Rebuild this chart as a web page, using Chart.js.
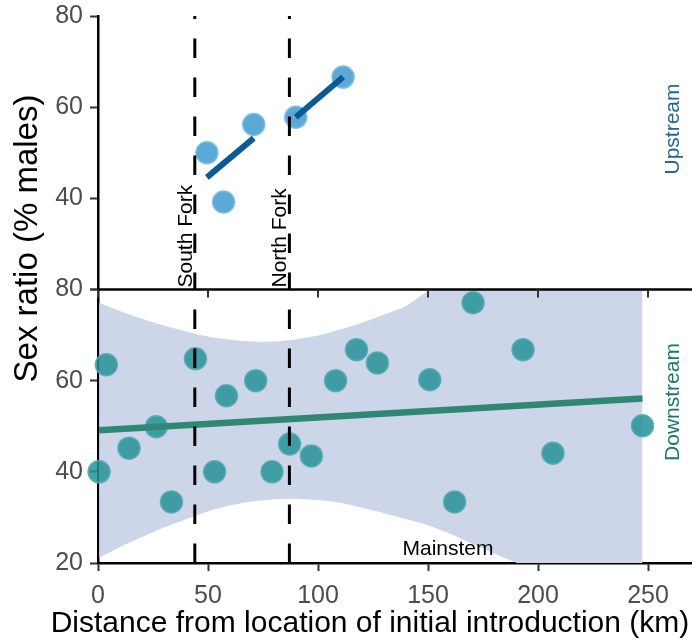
<!DOCTYPE html>
<html><head><meta charset="utf-8">
<script src="https://cdn.jsdelivr.net/npm/chart.js@4.4.1/dist/chart.umd.min.js"></script>
<style>html,body{margin:0;padding:0;background:#fff;}#wrap{width:692px;height:640px;position:relative;}</style>
</head><body><div id="wrap"><canvas id="c" width="692" height="640"></canvas></div>
<script>
// ---- data ----
const xTicks = [0, 50, 100, 150, 200, 250];
const yTicks = [20, 40, 60, 80];
const forkNames = ['South Fork', 'North Fork'];
const forkKm = [44, 87];
const upKm = [49.5, 57.1, 70.8, 89.9, 111.4];
const upRatio = [50.0, 39.2, 56.2, 57.8, 66.6];
const upFit1Km = [49.5, 70.8];
const upFit1Ratio = [44.6, 53.2];
const upFit2Km = [89.9, 111.4];
const upFit2Ratio = [57.8, 66.6];
const downKm = [0.5, 3.8, 14.1, 26.5, 33.4, 44.3, 53.0, 58.4, 71.7, 79.1, 87.1, 97.0, 108.0, 117.5, 127.0, 150.8, 162.1, 170.5, 193.2, 206.8, 247.5];
const downRatio = [40.0, 63.5, 45.2, 49.9, 33.4, 64.8, 40.0, 56.7, 60.0, 40.0, 46.1, 43.5, 60.0, 66.8, 63.9, 60.2, 33.4, 77.1, 66.8, 44.1, 50.1];
const downFitKm = [0.5, 247.5];
const downFitRatio = [49.1, 56.1];
const bandKm = [0.5, 10, 20, 30, 40, 50, 60, 70, 80, 90, 100, 110, 120, 130, 140, 150, 160, 170, 180, 190, 200, 210, 220, 230, 240, 247.5];
const bandUpper = [77.1, 75.3, 73.6, 72.1, 70.8, 69.7, 69.0, 68.6, 68.6, 69.1, 69.9, 71.2, 72.7, 74.5, 76.4, 79.6, 81.6, 83.8, 86.1, 88.7, 91.3, 94.0, 96.7, 99.5, 102.3, 104.5];
const bandLower = [21.1, 23.5, 25.7, 27.8, 29.6, 31.3, 32.6, 33.5, 34.0, 34.1, 33.8, 33.2, 32.1, 30.9, 29.6, 28.3, 26.4, 24.2, 22.1, 20.1, 18.0, 15.8, 13.6, 11.4, 9.2, 7.5];
const panelLabels = ['Upstream', 'Downstream', 'Mainstem'];
const xTitle = 'Distance from location of initial introduction (km)';
const yTitle = 'Sex ratio (% males)';

const zip = (xs, ys) => xs.map((x, i) => ({x: x, y: ys[i]}));
const FONT = '"Liberation Sans", Arial, Helvetica, sans-serif';

const vline = (km, axis, offset) => ({
  type: 'line', yAxisID: axis, order: 20,
  data: [{x: km, y: yTicks[0]}, {x: km, y: yTicks[yTicks.length - 1]}],
  borderColor: '#000', borderWidth: 3, borderDash: [19.5, 19.5], borderDashOffset: offset,
  pointRadius: 0, fill: false
});

const panelClip = {
  id: 'panelClip',
  beforeDatasetsDraw(chart) {
    const s = chart.scales.yDown, a = chart.chartArea, ctx = chart.ctx;
    ctx.save();
    ctx.beginPath();
    ctx.rect(a.left, s.top, a.right - a.left, s.bottom - s.top);
    ctx.clip();
  },
  afterDatasetDraw(chart, args) {
    if (args.index === 1) chart.ctx.restore();
  }
};

const decor = {
  id: 'decor',
  afterDraw(chart) {
    const ctx = chart.ctx, x = chart.scales.x, yU = chart.scales.yUp, a = chart.chartArea;
    // upper panel x axis line + ticks
    ctx.save();
    ctx.strokeStyle = '#000'; ctx.lineWidth = 2.5;
    ctx.beginPath(); ctx.moveTo(a.left - 1, yU.bottom); ctx.lineTo(a.right, yU.bottom); ctx.stroke();
    ctx.strokeStyle = '#333'; ctx.lineWidth = 2;
    xTicks.forEach(t => {
      const px = x.getPixelForValue(t);
      ctx.beginPath(); ctx.moveTo(px, yU.bottom); ctx.lineTo(px, yU.bottom + 8); ctx.stroke();
    });
    // fork labels
    ctx.fillStyle = '#000'; ctx.font = '21px ' + FONT;
    ctx.textAlign = 'left'; ctx.textBaseline = 'alphabetic';
    forkKm.forEach((km, i) => {
      ctx.save();
      ctx.translate(x.getPixelForValue(km) - 3, yU.bottom - 2);
      ctx.rotate(-Math.PI / 2);
      ctx.fillText(forkNames[i], 0, 0);
      ctx.restore();
    });
    // Mainstem
    ctx.textAlign = 'center';
    ctx.fillText(panelLabels[2], 448, 555);
    // Upstream / Downstream
    const side = (txt, cy, col) => {
      ctx.save(); ctx.fillStyle = col; ctx.translate(679, cy); ctx.rotate(-Math.PI / 2);
      ctx.textAlign = 'center'; ctx.fillText(txt, 0, 0); ctx.restore();
    };
    side(panelLabels[0], 129, '#1f6699');
    side(panelLabels[1], 402, '#167a66');
    // axis titles
    ctx.fillStyle = '#000';
    ctx.font = '30px ' + FONT; ctx.textAlign = 'center';
    ctx.fillText(xTitle, 370, 632);
    ctx.save(); ctx.font = '33px ' + FONT; ctx.translate(37, 238.5); ctx.rotate(-Math.PI / 2);
    ctx.fillText(yTitle, 0, 0); ctx.restore();
    ctx.restore();
  }
};

const yScale = (hide20) => ({
  type: 'linear', position: 'left', stack: 'panels', stackWeight: 1,
  min: yTicks[0], max: yTicks[yTicks.length - 1],
  afterFit: s => { s.width = 98; s.paddingTop = 0; s.paddingBottom = 0; },
  afterBuildTicks: s => { s.ticks = yTicks.map(v => ({value: v})); },
  ticks: {
    color: '#4d4d4d', padding: 7, font: {size: 25, family: FONT},
    callback: v => (hide20 && v === yTicks[0]) ? '' : String(v)
  },
  grid: {display: true, drawOnChartArea: false, drawTicks: true, tickLength: 8, tickWidth: 2, tickColor: '#333'},
  border: {display: true, color: '#000', width: 2.5}
});

new Chart(document.getElementById('c'), {
  type: 'scatter',
  data: {
    datasets: [
      {type: 'line', yAxisID: 'yDown', order: 100, data: zip(bandKm, bandUpper),
       borderWidth: 0, pointRadius: 0, fill: '+1', backgroundColor: '#cdd5e8', tension: 0.3},
      {type: 'line', yAxisID: 'yDown', order: 99, data: zip(bandKm, bandLower),
       borderWidth: 0, pointRadius: 0, fill: false, tension: 0.3},
      {type: 'scatter', yAxisID: 'yDown', order: 40, data: zip(downKm, downRatio), clip: false,
       pointRadius: 11, pointBackgroundColor: 'rgba(38,146,152,0.85)', pointBorderColor: 'rgba(85,172,176,0.9)', pointBorderWidth: 1.5},
      {type: 'scatter', yAxisID: 'yUp', order: 40, data: zip(upKm, upRatio), clip: false,
       pointRadius: 11, pointBackgroundColor: 'rgba(75,160,208,0.9)', pointBorderColor: 'rgba(125,190,228,0.95)', pointBorderWidth: 1.5},
      {type: 'line', yAxisID: 'yDown', order: 30, data: zip(downFitKm, downFitRatio),
       borderColor: '#2f8774', borderWidth: 6.5, pointRadius: 0, fill: false},
      {type: 'line', yAxisID: 'yUp', order: 30, data: zip(upFit1Km, upFit1Ratio),
       borderColor: '#0a5b93', borderWidth: 6, pointRadius: 0, fill: false},
      {type: 'line', yAxisID: 'yUp', order: 30, data: zip(upFit2Km, upFit2Ratio),
       borderColor: '#0a5b93', borderWidth: 6, pointRadius: 0, fill: false},
      vline(forkKm[0], 'yUp', 2.5), vline(forkKm[1], 'yUp', 2.5),
      vline(forkKm[0], 'yDown', 0), vline(forkKm[1], 'yDown', 0)
    ]
  },
  options: {
    responsive: false, animation: false, events: [],
    layout: {autoPadding: false, padding: {top: 16, right: 0, left: 0, bottom: 0}},
    plugins: {legend: {display: false}, tooltip: {enabled: false}},
    scales: {
      x: {
        type: 'linear', position: 'bottom', min: 0, max: 270,
        afterFit: s => { s.height = 77; s.paddingLeft = 0; s.paddingRight = 0; },
        afterBuildTicks: s => { s.ticks = xTicks.map(v => ({value: v})); },
        ticks: {color: '#4d4d4d', padding: 10, font: {size: 25, family: FONT}, maxRotation: 0},
        grid: {display: true, drawOnChartArea: false, drawTicks: true, tickLength: 8, tickWidth: 2, tickColor: '#333'},
        border: {display: true, color: '#000', width: 2.5}
      },
      yDown: yScale(false),
      yUp: yScale(true)
    }
  },
  plugins: [panelClip, decor]
});
</script></body></html>
